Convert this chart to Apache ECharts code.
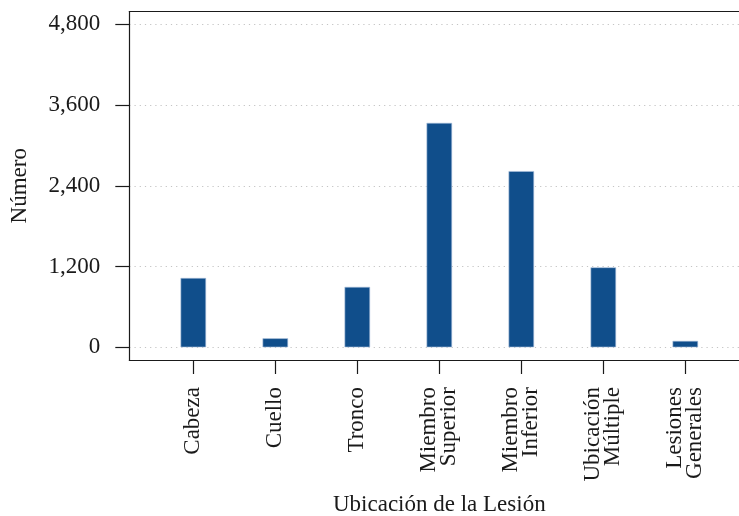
<!DOCTYPE html>
<html>
<head>
<meta charset="utf-8">
<script src="https://cdn.jsdelivr.net/npm/echarts@6/dist/echarts.min.js"></script>
<style>
html,body{margin:0;padding:0;background:#fff;}
#chart{width:739px;height:516px;}
</style>
</head>
<body>
<div id="chart"></div>
<script>
const categories = ['Cabeza', 'Cuello', 'Tronco', 'Miembro\nSuperior', 'Miembro\nInferior', 'Ubicación\nMúltiple', 'Lesiones\nGenerales'];
const values = [1030, 134, 898, 3335, 2618, 1188, 95];
const yTicks = [0, 1200, 2400, 3600, 4800];

const FONT = 'Liberation Serif';
const FS = 23;
const INK = '#1a1a1a';
const chart = echarts.init(document.getElementById('chart'), null, {renderer: 'canvas'});

const frameAxis = (pos) => ({
  gridIndex: 2, type: 'value', min: 0, max: 1, position: pos,
  axisLine: {show: true, onZero: false, lineStyle: {color: INK, width: 1.2}},
  axisTick: {show: false}, axisLabel: {show: false}, splitLine: {show: false}
});

chart.setOption({
  animation: false,
  backgroundColor: '#ffffff',
  grid: [
    {left: 129.3, width: 620, top: 24.3, bottom: 168.7, containLabel: false, outerBoundsMode: 'none'},
    {left: 152.3, width: 574, top: 24.3, bottom: 156, containLabel: false, outerBoundsMode: 'none'},
    {left: 129.3, width: 620, top: 11.7, bottom: 156, show: false, containLabel: false, outerBoundsMode: 'none'}
  ],
  xAxis: [
    {gridIndex: 0, type: 'value', min: 0, max: 1, show: false},
    {
      gridIndex: 1, type: 'category', data: categories, boundaryGap: true, position: 'bottom',
      axisLine: {show: false, onZero: false},
      axisTick: {show: true, inside: false, alignWithLabel: true, length: 14, lineStyle: {color: INK, width: 1.2}},
      axisLabel: {rotate: 90, margin: 27, interval: 0, fontFamily: FONT, fontSize: FS, color: INK, lineHeight: 20},
      name: 'Ubicación de la Lesión', nameLocation: 'middle', nameGap: 133,
      nameTextStyle: {fontFamily: FONT, fontSize: FS, color: INK},
      splitLine: {show: false}
    },
    frameAxis('bottom'),
    frameAxis('top')
  ],
  yAxis: [
    {
      gridIndex: 0, type: 'value', min: 0, max: 4800, interval: 1200,
      axisLine: {show: false},
      axisTick: {show: true, inside: false, length: 14, lineStyle: {color: INK, width: 1.2}},
      axisLabel: {margin: 29, fontFamily: FONT, fontSize: FS, color: INK,
        formatter: v => yTicks.includes(v) ? v.toLocaleString('en-US') : ''},
      splitLine: {show: true, lineStyle: {type: [1.2, 4], color: '#c4c4c4', width: 1.2}},
      name: 'Número', nameLocation: 'middle', nameRotate: 90, nameGap: 98,
      nameTextStyle: {fontFamily: FONT, fontSize: FS, color: INK}
    },
    {gridIndex: 1, type: 'value', min: -188.7, max: 4800, show: false},
    frameAxis('left')
  ],
  series: [{
    type: 'bar',
    xAxisIndex: 1, yAxisIndex: 1,
    data: values,
    barWidth: 25.5,
    itemStyle: {color: '#104E8B', borderColor: '#a9c0dc', borderWidth: 0.6},
    z: 3
  }]
});
</script>
</body>
</html>
